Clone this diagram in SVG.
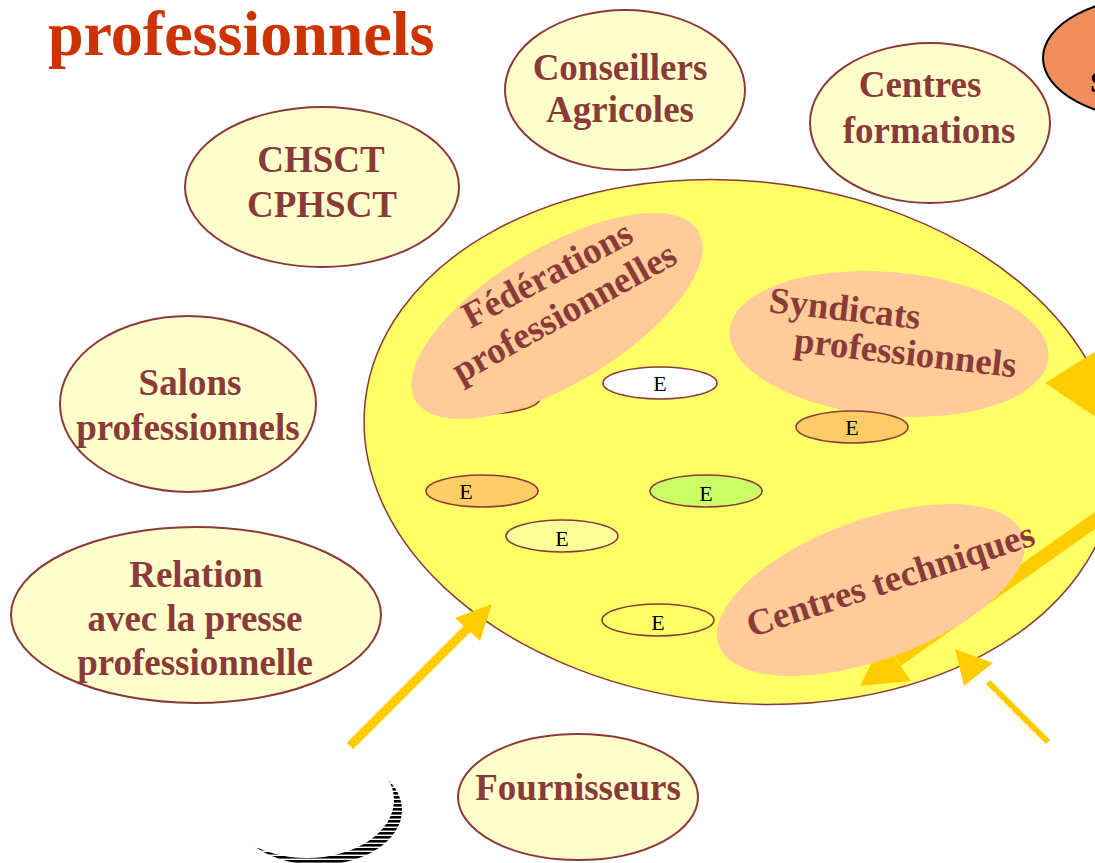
<svg xmlns="http://www.w3.org/2000/svg" width="1095" height="863" viewBox="0 0 1095 863">
<style>
.node{fill:#FFFFCC;stroke:#8B3A3A;stroke-width:2}
.lbl{font-family:"Liberation Serif",serif;font-weight:bold;font-size:37px;fill:#8B3A3A;text-anchor:middle}
.blob{fill:#FFCC99}
.e{stroke:#8B3A3A;stroke-width:1.6}
.et{font-family:"Liberation Serif",serif;font-size:22px;fill:#000;text-anchor:middle}
.arr{fill:#FFCC00}
.shaft{stroke:#FFCC00;fill:none}
</style>
<defs>
<pattern id="stripes" width="8" height="4" patternUnits="userSpaceOnUse">
<rect width="8" height="4" fill="#000"/>
<rect y="2.6" width="8" height="1.4" fill="#fff"/>
</pattern>
<mask id="cres">
<rect width="1095" height="863" fill="#fff"/>
<ellipse cx="307" cy="800" rx="87" ry="58" fill="#000"/>
</mask>
</defs>
<rect width="1095" height="863" fill="#fff"/>
<text x="48" y="55" style="font-family:'Liberation Serif',serif;font-weight:bold;font-size:64px;fill:#CC3300">professionnels</text>
<g id="orange-node">
<ellipse cx="1160" cy="58" rx="117" ry="62" fill="#EF8D5C" stroke="#000" stroke-width="2"/>
<text x="1090" y="92" style="font-family:'Liberation Serif',serif;font-weight:bold;font-size:30px;fill:#000">S</text>
</g>
<g id="conseillers"><ellipse class="node" cx="625" cy="90" rx="120" ry="80"/><text class="lbl" x="620" y="80">Conseillers</text><text class="lbl" x="620" y="122">Agricoles</text></g>
<g id="centres-formations"><ellipse class="node" cx="930" cy="123" rx="120" ry="80"/><text class="lbl" x="920" y="97">Centres</text><text class="lbl" x="929" y="143">formations</text></g>
<g id="chsct"><ellipse class="node" cx="322" cy="187" rx="137" ry="80"/><text class="lbl" x="321" y="172">CHSCT</text><text class="lbl" x="322" y="217">CPHSCT</text></g>
<g id="salons"><ellipse class="node" cx="188" cy="404" rx="128" ry="88"/><text class="lbl" x="190" y="395">Salons</text><text class="lbl" x="188" y="440">professionnels</text></g>
<g id="relation"><ellipse class="node" cx="196" cy="615" rx="185" ry="88"/><text class="lbl" x="196" y="587">Relation</text><text class="lbl" x="195" y="631">avec la presse</text><text class="lbl" x="195" y="675">professionnelle</text></g>
<g id="fournisseurs"><ellipse class="node" cx="578" cy="797" rx="120" ry="63"/><text class="lbl" x="578" y="800">Fournisseurs</text></g>
<g id="entreprise">
<ellipse cx="740" cy="442" rx="377" ry="261" fill="#FFFF66" stroke="#8B3A3A" stroke-width="1.5" transform="rotate(6 740 442)"/>
</g>
<g id="e-hidden"><ellipse class="e" cx="484" cy="398" rx="56" ry="16" fill="#FFCC66"/></g>
<g id="connectors">
<path class="shaft" d="M1110 510 L897 660" stroke-width="14"/>
<polygon class="arr" points="860,686 911,681 883,640"/>
<polygon class="arr" points="1045,383 1130,330 1130,440"/>
</g>
<g id="federations"><ellipse class="blob" cx="557" cy="316" rx="165" ry="68" transform="rotate(-31 557 316)"/>
<text class="lbl" transform="translate(553 285) rotate(-28)">Fédérations</text>
<text class="lbl" transform="translate(570 323) rotate(-29)">professionnelles</text></g>
<g id="syndicats"><ellipse class="blob" cx="889" cy="344" rx="160" ry="72" transform="rotate(5 889 344)"/>
<text class="lbl" style="text-anchor:start" transform="translate(768 312) rotate(6.5)">Syndicats</text>
<text class="lbl" style="text-anchor:start" transform="translate(793 352) rotate(6.5)">professionnels</text></g>
<g id="centres-techniques"><ellipse class="blob" cx="871" cy="590" rx="162" ry="70" transform="rotate(-20 871 590)"/>
<text class="lbl" transform="translate(894 591) rotate(-18)">Centres techniques</text></g>
<g id="e1"><ellipse class="e" cx="660" cy="383" rx="57" ry="16" fill="#fff"/><text class="et" x="660" y="391">E</text></g>
<g id="e2"><ellipse class="e" cx="852" cy="427" rx="56" ry="16" fill="#FFCC66"/><text class="et" x="852" y="435">E</text></g>
<g id="e3"><ellipse class="e" cx="482" cy="491" rx="56" ry="16" fill="#FFCC66"/><text class="et" x="466" y="499">E</text></g>
<g id="e4"><ellipse class="e" cx="706" cy="491" rx="56" ry="16" fill="#CCFF66"/><text class="et" x="706" y="501">E</text></g>
<g id="e5"><ellipse class="e" cx="562" cy="536" rx="56" ry="16" fill="#FFFF99"/><text class="et" x="562" y="546">E</text></g>
<g id="e6"><ellipse class="e" cx="658" cy="620" rx="56" ry="16" fill="#FFFF66"/><text class="et" x="658" y="630">E</text></g>
<g id="crescent"><ellipse cx="318" cy="810" rx="84" ry="55" fill="url(#stripes)" mask="url(#cres)"/></g>
<g id="connectors2">
<path class="shaft" d="M350 746 L470 626" stroke-width="9"/>
<polygon class="arr" points="492,604 455,618 480,641"/>
<path class="shaft" d="M1048 742 L988 682" stroke-width="6"/>
<polygon class="arr" points="955,649 993,663 964,686"/>
</g>
</svg>
